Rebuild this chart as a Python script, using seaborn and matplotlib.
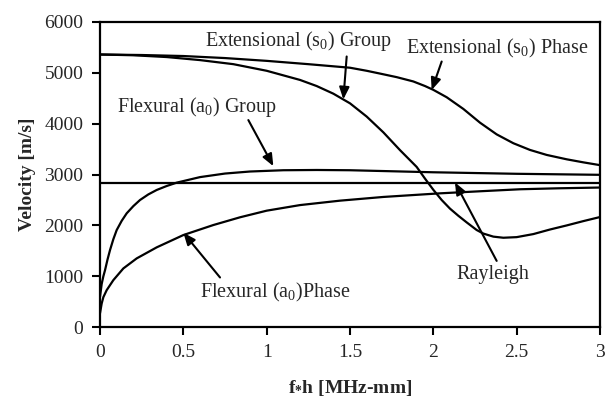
import matplotlib
matplotlib.use("Agg")
import matplotlib.pyplot as plt
import seaborn as sns

# dispersion curves (f*h in MHz-mm, velocity in m/s)
ext_phase_x = [0, 0.25, 0.5, 0.75, 1.0, 1.25, 1.5, 1.6, 1.68, 1.78, 1.88, 1.95, 2.0, 2.08, 2.18, 2.28, 2.38, 2.48,
               2.58, 2.68, 2.8, 2.9, 3.0]
ext_phase_y = [5360, 5350, 5330, 5290, 5235, 5170, 5100, 5040, 4985, 4915, 4830, 4740, 4665, 4520, 4290, 4020, 3790, 3616,
               3484, 3386, 3300, 3240, 3185]

ext_group_x = [0, 0.2, 0.4, 0.6, 0.8, 1.0, 1.2, 1.3, 1.4, 1.5, 1.6, 1.7, 1.8, 1.9, 1.95, 2.0, 2.05, 2.1,
               2.15, 2.2, 2.26, 2.3, 2.36, 2.42, 2.5, 2.6, 2.7, 2.8, 2.9, 3.0]
ext_group_y = [5360, 5345, 5310, 5250, 5170, 5040, 4860, 4740, 4590, 4400, 4140, 3830, 3480, 3150, 2920, 2700, 2500, 2330,
               2190, 2060, 1910, 1840, 1780, 1758, 1770, 1830, 1920, 2000, 2085, 2165]

flex_group_x = [0, 0.01, 0.02, 0.03, 0.045, 0.06, 0.08, 0.1, 0.13, 0.16, 0.2, 0.24, 0.29, 0.34, 0.4, 0.46, 0.6, 0.75,
                0.9, 1.1, 1.3, 1.5, 1.75, 2.0, 2.25, 2.5, 2.75, 3.0]
flex_group_y = [600, 850, 1000, 1120, 1330, 1516, 1730, 1909, 2090, 2238, 2380, 2500, 2610, 2697, 2775, 2841, 2950, 3020,
                3060, 3085, 3090, 3085, 3065, 3045, 3030, 3015, 3005, 2995]

flex_phase_x = [0, 0.01, 0.02, 0.04, 0.08, 0.14, 0.22, 0.34, 0.5, 0.68, 0.84, 1.0, 1.2, 1.44, 1.7, 2.04, 2.3, 2.52,
                2.75, 3.0]
flex_phase_y = [275, 466, 590, 728, 925, 1155, 1352, 1569, 1811, 2008, 2160, 2290, 2400, 2487, 2560, 2631, 2675, 2711,
                2730, 2745]

rayleigh_x = [0, 3]
rayleigh_y = [2835, 2835]

# labels: (text, text position, arrow tail, arrow head)
labels = [
    ('Extensional (s$_0$) Group', (1.19, 5616), (1.48, 5321), (1.46, 4478)),
    ('Extensional (s$_0$) Phase', (2.38, 5486), (2.05, 5222), (1.99, 4660)),
    ('Flexural (a$_0$) Group', (0.58, 4334), (0.89, 4071), (1.04, 3165)),
    ('Flexural (a$_0$)Phase', (1.05, 675), (0.72, 977), (0.50, 1857)),
    ('Rayleigh', (2.36, 1042), (2.38, 1303), (2.13, 2845)),
]

sns.set_style("ticks")
plt.rcParams['font.family'] = ['Liberation Serif', 'DejaVu Serif']
plt.rcParams['mathtext.fontset'] = 'custom'
plt.rcParams['mathtext.rm'] = 'Liberation Serif'
plt.rcParams['mathtext.it'] = 'Liberation Serif'
plt.rcParams['mathtext.bf'] = 'Liberation Serif:bold'

fig, ax = plt.subplots(figsize=(6.11, 3.99), dpi=100)
fig.subplots_adjust(left=0.1637, right=0.982, top=0.945, bottom=0.18)

curves = [(ext_phase_x, ext_phase_y), (ext_group_x, ext_group_y), (flex_group_x, flex_group_y),
          (flex_phase_x, flex_phase_y), (rayleigh_x, rayleigh_y)]
for cx, cy in curves:
    sns.lineplot(x=cx, y=cy, ax=ax, color='black', linewidth=1.6, sort=False, estimator=None)

ax.set_xlim(0, 3)
ax.set_ylim(0, 6000)
ax.set_xticks([0, 0.5, 1, 1.5, 2, 2.5, 3])
ax.set_xticklabels(['0', '0.5', '1', '1.5', '2', '2.5', '3'])
ax.set_yticks(range(0, 6001, 1000))
ax.tick_params(labelsize=14, length=5.5, width=1.5, pad=6.5, color='black')
for sp in ax.spines.values():
    sp.set_linewidth(1.6)
    sp.set_color('black')

ax.set_xlabel(r'$\mathbf{f_{*}h}$ [MHz-mm]', fontsize=14, fontweight='bold', labelpad=12)
ax.set_ylabel('Velocity [m/s]', fontsize=14, fontweight='bold', labelpad=6)

arrow = dict(arrowstyle='-|>,head_length=0.6,head_width=0.25', color='black', lw=1.5,
             mutation_scale=12, shrinkA=0, shrinkB=0)
for txt, pos, tail, head in labels:
    ax.text(pos[0], pos[1], txt, fontsize=14.5, ha='center', va='center')
    ax.annotate('', xy=head, xytext=tail, arrowprops=arrow)

fig.savefig('out.png', dpi=100)
